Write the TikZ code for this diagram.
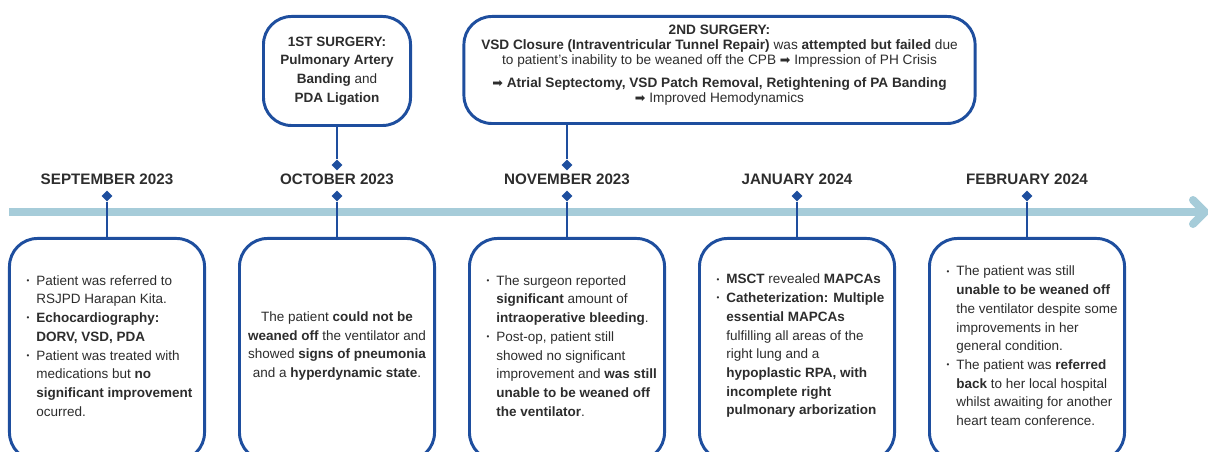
\documentclass[tikz,border=0pt]{standalone}
\usepackage{fontspec}
\setmainfont{Liberation Sans}
\newfontfamily\arrowfont{DejaVu Sans}
\usepackage{xcolor}
\usetikzlibrary{shapes.geometric,arrows.meta,positioning}

\definecolor{barblue}{RGB}{166,204,217}
\definecolor{navy}{RGB}{30,78,158}
\definecolor{ink}{RGB}{45,45,45}

\newcommand{\bul}{\llap{\raisebox{0.25ex}{\scalebox{0.6}{\textbullet}}\hspace{0.17cm}}}
\newcommand{\then}{{\arrowfont\small ➡}}

\tikzset{
  evbox/.style={draw=navy, line width=2.1pt, rounded corners=0.7cm, fill=white,
    minimum width=4.875cm, minimum height=5.55cm, anchor=north},
  evtext/.style={text=ink, font=\fontsize{9.6}{13.3}\selectfont, align=left,
    anchor=west, inner sep=0pt, yshift=0.09cm},
  opbox/.style={draw=navy, line width=2.1pt, rounded corners=0.7cm, fill=white,
    text=ink, align=center, anchor=north, inner sep=0pt},
  month/.style={text=ink, font=\fontsize{10.8}{13}\selectfont\bfseries},
  pin/.style={diamond, fill=navy, minimum size=0.27cm, inner sep=0pt},
  stem/.style={draw=navy, line width=1.8pt},
  bar/.style={draw=barblue, line width=0.2cm}
}

\begin{document}
\begin{tikzpicture}[x=0.025cm, y=-0.025cm]
\useasboundingbox (0,0) rectangle (1208,452);

\coordinate (tl-start) at (9,212);
\coordinate (tl-end) at (1209,212);
\draw[bar, -{Straight Barb[length=0.3cm, width=0.6cm, round]}] (tl-start) -- (tl-end);

\node[month] (sep) at (107,179.5) {SEPTEMBER 2023};
\node[month] (oct) at (337,179.5) {OCTOBER 2023};
\node[month] (nov) at (567,179.5) {NOVEMBER 2023};
\node[month] (jan) at (797,179.5) {JANUARY 2024};
\node[month] (feb) at (1027,179.5) {FEBRUARY 2024};

\node[pin] (sep-pin) at (107,196) {};
\node[pin] (oct-pin) at (337,196) {};
\node[pin] (nov-pin) at (567,196) {};
\node[pin] (jan-pin) at (797,196) {};
\node[pin] (feb-pin) at (1027,196) {};
\node[pin] (oct-top) at (337,165) {};
\node[pin] (nov-top) at (567,165) {};

\node[opbox, minimum width=3.675cm, minimum height=2.725cm,
  font=\fontsize{9.6}{13.3}\selectfont] (op1) at (337,15)
  {\textbf{1ST SURGERY:}\\ \textbf{Pulmonary Artery}\\ \textbf{Banding} and\\ \textbf{PDA Ligation}};
\node[opbox, minimum width=12.775cm, minimum height=2.675cm] (op2) at (719.5,15) {};
\node[text=ink, align=center, font=\fontsize{9.7}{10.7}\selectfont, yshift=0.12cm] (op2-text) at (op2.center)
  {\textbf{2ND SURGERY:}\\
   \textbf{VSD Closure (Intraventricular Tunnel Repair)} was \textbf{attempted but failed} due\\
   to patient's inability to be weaned off the CPB \then{} Impression of PH Crisis\\[0.2cm]
   \then{} \textbf{Atrial Septectomy, VSD Patch Removal, Retightening of PA Banding}\\
   \then{} Improved Hemodynamics};

\node[evbox] (b1) at (107,237) {};
\node[evbox] (b2) at (337,237) {};
\node[evbox] (b3) at (567,237) {};
\node[evbox] (b4) at (797,237) {};
\node[evbox] (b5) at (1027,237) {};

\draw[stem] (op1) -- (oct-top);
\draw[stem] (op2.south -| nov-top) -- (nov-top);
\draw[stem] (sep-pin) -- (b1.north);
\draw[stem] (oct-pin) -- (b2.north);
\draw[stem] (nov-pin) -- (b3.north);
\draw[stem] (jan-pin) -- (b4.north);
\draw[stem] (feb-pin) -- (b5.north);

\node[evtext] (t1) at ([xshift=0.7cm]b1.west)
  {\bul Patient was referred to\\ RSJPD Harapan Kita.\\
   \bul\textbf{Echocardiography:}\\ \textbf{DORV, VSD, PDA}\\
   \bul Patient was treated with\\ medications but \textbf{no}\\
   \textbf{significant improvement}\\ ocurred.};
\node[evtext, align=center, anchor=center] (t2) at (b2.center)
  {The patient \textbf{could not be}\\ \textbf{weaned off} the ventilator and\\
   showed \textbf{signs of pneumonia}\\ and a \textbf{hyperdynamic state}.};
\node[evtext] (t3) at ([xshift=0.7cm]b3.west)
  {\bul The surgeon reported\\ \textbf{significant} amount of\\
   \textbf{intraoperative bleeding}.\\
   \bul Post-op, patient still\\ showed no significant\\
   improvement and \textbf{was still}\\ \textbf{unable to be weaned off}\\
   \textbf{the ventilator}.};
\node[evtext] (t4) at ([xshift=0.7cm]b4.west)
  {\bul\textbf{MSCT} revealed \textbf{MAPCAs}\\
   \bul\textbf{Catheterization: Multiple}\\ \textbf{essential MAPCAs}\\
   fulfilling all areas of the\\ right lung and a\\
   \textbf{hypoplastic RPA, with}\\ \textbf{incomplete right}\\
   \textbf{pulmonary arborization}};
\node[evtext] (t5) at ([xshift=0.7cm]b5.west)
  {\bul The patient was still\\ \textbf{unable to be weaned off}\\
   the ventilator despite some\\ improvements in her\\ general condition.\\
   \bul The patient was \textbf{referred}\\ \textbf{back} to her local hospital\\
   whilst awaiting for another\\ heart team conference.};
\end{tikzpicture}
\end{document}
